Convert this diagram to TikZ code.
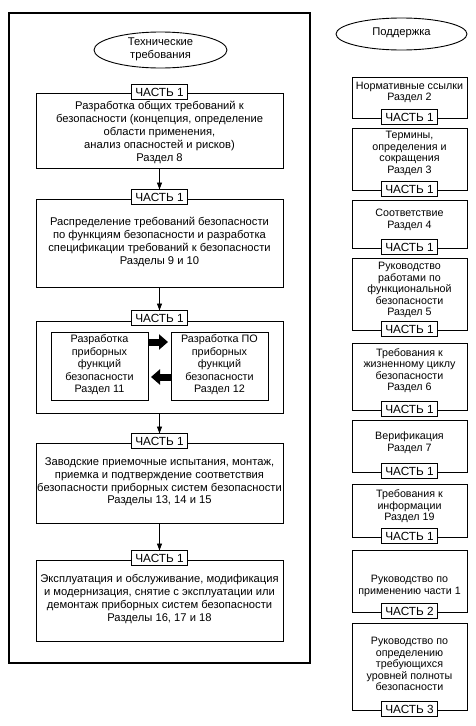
\documentclass[tikz,border=0pt]{standalone}
\usepackage{fontspec}
\setmainfont{Liberation Sans}
\usetikzlibrary{arrows.meta,shapes.geometric}
\begin{document}
\begin{tikzpicture}[x=1pt,y=-1pt,
  every node/.style={inner sep=0pt, outer sep=0pt},
  box/.style={draw, line width=0.9pt, rectangle},
  lbox/.style={box, minimum width=247pt},
  rbox/.style={box, minimum width=115pt},
  ibox/.style={box, minimum width=97pt, minimum height=68pt},
  lbl/.style={draw, fill=white, line width=0.9pt, minimum width=56pt, minimum height=15pt, font=\fontsize{11.8}{12}\selectfont},
  txt/.style={align=center, font=\fontsize{11.2}{12.8}\selectfont},
  itxt/.style={align=center, font=\fontsize{10.8}{12.5}\selectfont},
  rtxt/.style={align=center, font=\fontsize{10.7}{11.5}\selectfont},
  oval/.style={draw, ellipse, line width=0.9pt},
  arr/.style={line width=0.9pt, -{Triangle[length=7pt,width=5pt]}},
  fat/.style={line width=7pt, -{Triangle[length=9pt,width=15pt]}, shorten >=3pt}
]
\useasboundingbox (0,0) rectangle (476,726);

% ---------- left column ----------
\node[draw, line width=1.3pt, minimum width=301pt, minimum height=650pt] (frame) at (159.5,338) {};
\node[oval, minimum width=133pt, minimum height=36pt] (e1) at (160.5,50) {};
\node[txt] (te1) at (160.5,49) {Технические\\требования};

\node[lbox, minimum height=75pt] (b1) at (159.5,130.5) {};
\node[txt] (t1) at (159.5,132.5) {Разработка общих требований к\\безопасности (концепция, определение\\области применения,\\анализ опасностей и рисков)\\Раздел 8};
\node[lbl] (l1) at ([yshift=1pt]b1.north) {ЧАСТЬ 1};

\node[lbox, minimum height=88pt] (b2) at (159.5,243) {};
\node[txt] (t2) at (159.5,242) {Распределение требований безопасности\\по функциям безопасности и разработка\\спецификации требований к безопасности\\Разделы 9 и 10};
\node[lbl] (l2) at ([yshift=2pt]b2.north) {ЧАСТЬ 1};

\node[lbox, minimum height=92pt] (b3) at (159.5,367) {};
\node[lbl] (l3) at ([yshift=3pt]b3.north) {ЧАСТЬ 1};
\node[ibox] (ia) at (99.5,366) {};
\node[itxt] (tia) at (99.5,365) {Разработка\\приборных\\функций\\безопасности\\Раздел 11};
\node[ibox] (ib) at (219.5,366) {};
\node[itxt] (tib) at (219.5,365) {Разработка ПО\\приборных\\функций\\безопасности\\Раздел 12};
\coordinate (ya) at (0,342);
\coordinate (yb) at (0,377);
\draw[fat] (ia.east |- ya) -- (ib.west |- ya);
\draw[fat] (ib.west |- yb) -- (ia.east |- yb);

\node[lbox, minimum height=80pt] (b4) at (159.5,483) {};
\node[txt] (t4) at (159.5,482) {Заводские приемочные испытания, монтаж,\\приемка и подтверждение соответствия\\безопасности приборных систем безопасности\\Разделы 13, 14 и 15};
\node[lbl] (l4) at ([yshift=2pt]b4.north) {ЧАСТЬ 1};

\node[lbox, minimum height=81pt] (b5) at (159.5,600.5) {};
\node[txt] (t5) at (159.5,599) {Эксплуатация и обслуживание, модификация\\и модернизация, снятие с эксплуатации или\\демонтаж приборных систем безопасности\\Разделы 16, 17 и 18};
\node[lbl] (l5) at ([yshift=2pt]b5.north) {ЧАСТЬ 1};

\draw[arr] (b1.south) -- (l2.north);
\draw[arr] (b2.south) -- (l3.north);
\draw[arr] (b3.south) -- (l4.north);
\draw[arr] (b4.south) -- (l5.north);

% ---------- right column ----------
\node[oval, minimum width=131pt, minimum height=32pt] (e2) at (401.5,34) {};
\node[txt] (te2) at (401.5,33) {Поддержка};

\node[rbox, minimum height=41pt] (r1) at (409.5,97.5) {};
\node[rtxt] (tr1) at (409.5,92.5) {Нормативные ссылки\\Раздел 2};
\node[lbl] (lr1) at ([yshift=1pt]r1.south) {ЧАСТЬ 1};

\node[rbox, minimum height=62pt] (r2) at (409.5,159) {};
\node[rtxt] (tr2) at (409.5,153.5) {Термины,\\определения и\\сокращения\\Раздел 3};
\node[lbl] (lr2) at ([yshift=1pt]r2.south) {ЧАСТЬ 1};

\node[rbox, minimum height=48pt] (r3) at (409.5,224) {};
\node[rtxt] (tr3) at (409.5,220) {Соответствие\\Раздел 4};
\node[lbl] (lr3) at ([yshift=1pt]r3.south) {ЧАСТЬ 1};

\node[rbox, minimum height=72pt] (r4) at (409.5,294) {};
\node[rtxt] (tr4) at (409.5,290) {Руководство\\работами по\\функциональной\\безопасности\\Раздел 5};
\node[lbl] (lr4) at ([yshift=1pt]r4.south) {ЧАСТЬ 1};

\node[rbox, minimum height=67pt] (r5) at (409.5,376.5) {};
\node[rtxt] (tr5) at (409.5,370.5) {Требования к\\жизненному циклу\\безопасности\\Раздел 6};
\node[lbl] (lr5) at ([yshift=1pt]r5.south) {ЧАСТЬ 1};

\node[rbox, minimum height=52pt] (r6) at (409.5,446) {};
\node[rtxt] (tr6) at (409.5,442.5) {Верификация\\Раздел 7};
\node[lbl] (lr6) at ([yshift=1pt]r6.south) {ЧАСТЬ 1};

\node[rbox, minimum height=53pt] (r7) at (409.5,510.5) {};
\node[rtxt] (tr7) at (409.5,506.5) {Требования к\\информации\\Раздел 19};
\node[lbl] (lr7) at ([yshift=1pt]r7.south) {ЧАСТЬ 1};

\node[rbox, minimum height=62pt] (r8) at (409.5,581) {};
\node[rtxt] (tr8) at (409.5,586) {Руководство по\\применению части 1};
\node[lbl] (lr8) at ([yshift=1pt]r8.south) {ЧАСТЬ 2};

\node[rbox, minimum height=87pt] (r9) at (409.5,666.5) {};
\node[rtxt] (tr9) at (409.5,664) {Руководство по\\определению\\требующихся\\уровней полноты\\безопасности};
\node[lbl] (lr9) at ([yshift=1pt]r9.south) {ЧАСТЬ 3};
\end{tikzpicture}
\end{document}
